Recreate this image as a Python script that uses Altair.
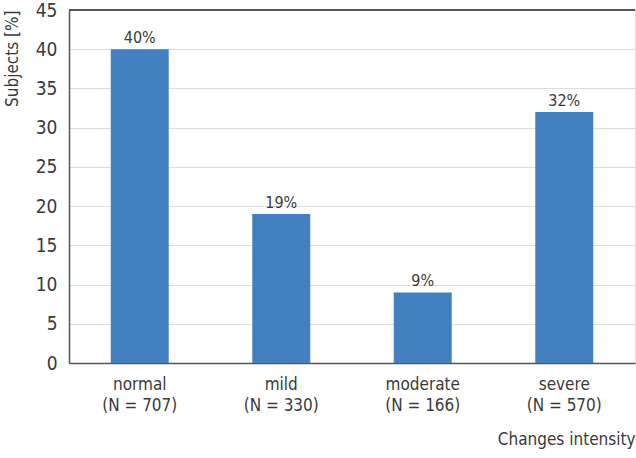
import altair as alt
import pandas as pd

categories = ["normal\n(N = 707)", "mild\n(N = 330)", "moderate\n(N = 166)", "severe\n(N = 570)"]
values = [40, 19, 9, 32]
labels = ["40%", "19%", "9%", "32%"]

df = pd.DataFrame({"cat": categories, "val": values, "lab": labels})

FONT = "DejaVu Sans Condensed"
TXT = "#3a3a3a"

xaxis = alt.Axis(title="Changes intensity", labelAngle=0,
                 labelExpr="split(datum.label, '\\n')",
                 labelFont=FONT, labelFontSize=17, labelColor=TXT,
                 labelPadding=13, labelLineHeight=21,
                 ticks=False, domainColor="#555555", domainWidth=1.5,
                 titleFont=FONT, titleFontSize=17, titleFontWeight="normal",
                 titleColor=TXT, titleAnchor="end", titlePadding=18)
yaxis = alt.Axis(title="Subjects [%]", values=list(range(0, 46, 5)),
                 labelOverlap=False,
                 labelFont=FONT, labelFontSize=19, labelColor=TXT,
                 labelPadding=12, ticks=False,
                 domainColor="#555555", domainWidth=1.5,
                 gridColor="#dcdcdc", gridWidth=1.2,
                 titleFont=FONT, titleFontSize=17, titleFontWeight="normal",
                 titleColor=TXT, titleAnchor="end", titlePadding=14)
xscale = alt.Scale(paddingInner=0, paddingOuter=0)
yscale = alt.Scale(domain=[0, 45])

x = alt.X("cat:N", sort=categories, scale=xscale, axis=xaxis)
y = alt.Y("val:Q", scale=yscale, axis=yaxis)

bars = alt.Chart(df).mark_bar(color="#4380c0", size=58).encode(x=x, y=y)
text = alt.Chart(df).mark_text(dy=-11, font=FONT, fontSize=16, color=TXT).encode(
    x=x, y=y, text="lab:N")
top = alt.Chart(df).mark_rule(color="#555555", strokeWidth=1.5).encode(
    y=alt.Y(datum=45, type="quantitative", scale=yscale, axis=yaxis))

chart = alt.layer(bars, text, top).properties(
    width=566, height=353,
    autosize=alt.AutoSizeParams(type="none"),
    padding={"left": 69, "top": 10, "right": 1, "bottom": 95},
).configure_view(stroke=None).configure(background="white")

chart.save("out.html", embed_options={"renderer": "svg", "actions": False})
